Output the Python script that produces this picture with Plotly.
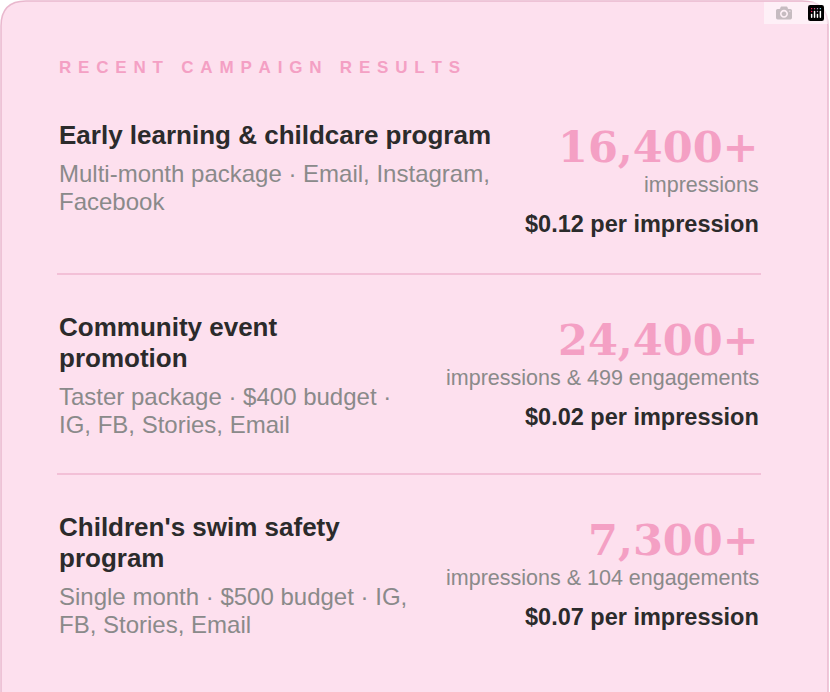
import plotly.graph_objects as go

# Campaign data
titles = [["Early learning & childcare program"],
          ["Community event", "promotion"],
          ["Children's swim safety", "program"]]
details = [["Multi-month package \u00b7 Email, Instagram,", "Facebook"],
           ["Taster package \u00b7 $400 budget \u00b7", "IG, FB, Stories, Email"],
           ["Single month \u00b7 $500 budget \u00b7 IG,", "FB, Stories, Email"]]
impressions = ["16,400+", "24,400+", "7,300+"]
reach_notes = ["impressions", "impressions & 499 engagements",
               "impressions & 104 engagements"]
cost_per = ["$0.12", "$0.02", "$0.07"]

# layout helpers (pixel positions)
row_top = [135, 327, 527]
num_y = [147, 340, 540]
separators = [274, 474]
W, H = 830, 692
PINK = "#f4a0c4"
DARK = "#2b2b2b"
GREY = "#8a8a8a"
SANS = "Liberation Sans, Arial, sans-serif"
LEFT, RIGHT = 57, 761

fig = go.Figure()
ann = []

header = "\u2009\u2009".join("RECENT CAMPAIGN RESULTS")
ann.append(dict(x=LEFT, y=67, text="<b>" + header + "</b>", xanchor="left",
                font=dict(family=SANS, size=17, color=PINK)))

for i in range(len(titles)):
    y = row_top[i]
    for line in titles[i]:
        ann.append(dict(x=LEFT, y=y, text="<b>" + line + "</b>", xanchor="left",
                        font=dict(family=SANS, size=26, color=DARK)))
        y += 31
    y += 7
    for line in details[i]:
        ann.append(dict(x=LEFT, y=y, text=line, xanchor="left",
                        font=dict(family=SANS, size=24, color=GREY)))
        y += 28
    ann.append(dict(x=RIGHT, y=num_y[i], text="<b>" + impressions[i] + "</b>",
                    xanchor="right",
                    font=dict(family="DejaVu Serif, serif", size=43, color=PINK)))
    ann.append(dict(x=RIGHT, y=num_y[i] + 38, text=reach_notes[i], xanchor="right",
                    font=dict(family=SANS, size=21.5, color=GREY)))
    ann.append(dict(x=RIGHT, y=num_y[i] + 77,
                    text="<b>" + cost_per[i] + " per impression</b>",
                    xanchor="right",
                    font=dict(family=SANS, size=23.5, color=DARK)))

for a in ann:
    a.update(xref="x", yref="y", showarrow=False, yanchor="middle")

r = 26
card = (f"M 1,{r} Q 1,1 {r},1 L {828 - r},1 Q 828,1 828,{r} "
        f"L 828,720 L 1,720 Z")
shapes = [dict(type="path", path=card, xref="x", yref="y",
               fillcolor="#fde0ee", line=dict(color="#e9b8ce", width=1.5),
               layer="below")]
for s in separators:
    shapes.append(dict(type="line", x0=LEFT, x1=RIGHT, y0=s, y1=s,
                       xref="x", yref="y",
                       line=dict(color="#efb6cf", width=1.5)))

fig.update_layout(width=W, height=H, margin=dict(l=0, r=0, t=0, b=0),
                  paper_bgcolor="white", plot_bgcolor="white",
                  xaxis=dict(range=[0, W], visible=False, fixedrange=True),
                  yaxis=dict(range=[H, 0], visible=False, fixedrange=True),
                  annotations=ann, shapes=shapes, showlegend=False)

fig.write_html("out.html", post_script="document.body.style.margin='0';")
